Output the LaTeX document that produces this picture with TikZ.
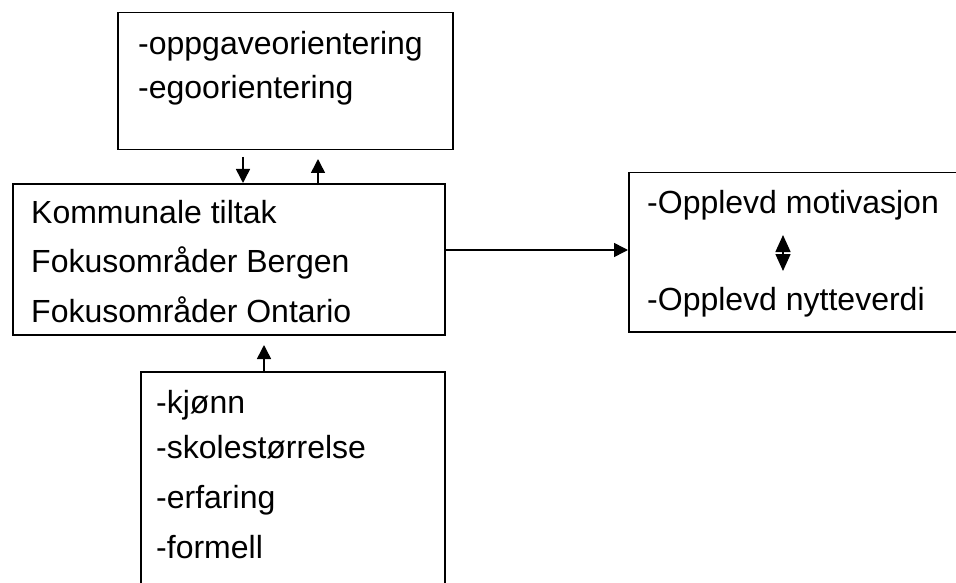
\documentclass[tikz,border=0pt]{standalone}
\usepackage{fontspec}
\setmainfont{Liberation Sans}
\usetikzlibrary{arrows.meta}
\tikzset{
    box/.style={rectangle, draw, line width=1.5pt, anchor=north west, inner sep=0pt},
    txt/.style={anchor=base west, inner sep=0pt, font=\fontsize{32}{40}\selectfont},
    conn/.style={line width=1.5pt, -{Triangle[width=14pt,length=14pt]}},
    both/.style={line width=1.5pt, {Triangle[width=15pt,length=17pt]}-{Triangle[width=15pt,length=17pt]}}
}

\begin{document}
\begin{tikzpicture}[x=1pt, y=-1pt]
    \useasboundingbox (0,0) rectangle (956,583);
    \clip (0,0) rectangle (956,583);

    \node (goal) [box, minimum width=335pt, minimum height=137pt] at (117,12) {};
    \node (tiltak) [box, minimum width=432pt, minimum height=151pt] at (12,183) {};
    \node (effekt) [box, minimum width=345pt, minimum height=159pt] at (628,172) {};
    \node (bakgr) [box, minimum width=304pt, minimum height=240pt] at (140,371) {};

    \node (g1) [txt] at (138,55) {-oppgaveorientering};
    \node (g2) [txt] at (138,99) {-egoorientering};

    \node (t1) [txt] at (31,223) {Kommunale tiltak};
    \node (t2) [txt] at (31,272) {Fokusområder Bergen};
    \node (t3) [txt] at (31,322) {Fokusområder Ontario};

    \node (e1) [txt] at (647,213) {-Opplevd motivasjon};
    \node (e2) [txt] at (647,310) {-Opplevd nytteverdi};

    \node (b1) [txt] at (156,413) {-kjønn};
    \node (b2) [txt] at (156,458) {-skolestørrelse};
    \node (b3) [txt] at (156,508) {-erfaring};
    \node (b4) [txt] at (156,558) {-formell};

    \coordinate (ned) at (243,157);
    \coordinate (opp) at (318,185);
    \coordinate (oppspiss) at (318,159);
    \coordinate (fra) at (264,371);
    \coordinate (fraspiss) at (264,345);
    \coordinate (d1) at (783,235);
    \coordinate (d2) at (783,271);

    \draw[conn] (ned) -- (ned |- tiltak.north);
    \draw[conn] (opp) -- (oppspiss);
    \draw[conn] (fra) -- (fraspiss);
    \draw[conn] (tiltak.east |- 0,250) -- (effekt.west |- 0,250);
    \draw[both] (d1) -- (d2);
\end{tikzpicture}
\end{document}
